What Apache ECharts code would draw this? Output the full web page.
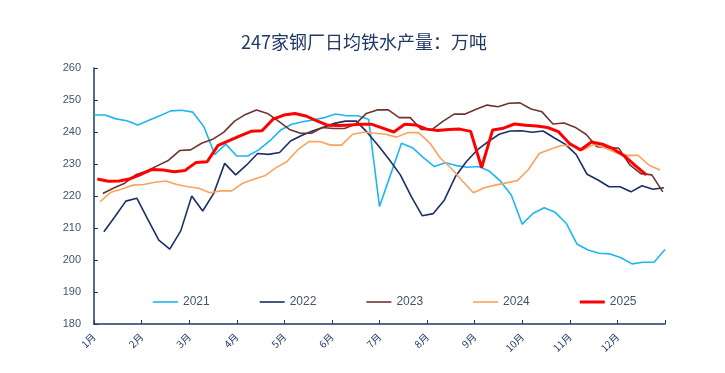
<!DOCTYPE html>
<html>
<head>
<meta charset="utf-8">
<script src="https://cdn.jsdelivr.net/npm/echarts@6/dist/echarts.min.js"></script>
<style>html,body{margin:0;padding:0;background:#fff}#c{width:725px;height:373px}</style>
</head>
<body>
<div id="c"></div>
<script>
const title = '247家钢厂日均铁水产量：万吨';
const monthLabels = ['1月','2月','3月','4月','5月','6月','7月','8月','9月','10月','11月','12月'];
const yTicks = {min: 180, max: 260, interval: 10};
const seriesNames = ['2021','2022','2023','2024','2025'];
// week offset of first observation of each year (weeks from 1 Jan)
const startWeek = [0, 0.9, 0.8, 0.55, 0.3];

const y2021 = [245.3,245.3,244.1,243.5,242.2,243.7,245.1,246.6,246.8,246.2,241.7,233.0,236.2,232.5,232.5,234.4,237.2,240.6,242.4,243.2,243.8,244.5,245.6,245.1,245.1,244.0,216.7,226.6,236.5,235.1,232.0,229.2,230.4,229.5,229.0,229.2,227.8,224.7,220.3,211.2,214.6,216.3,214.9,211.5,204.9,203.1,202.1,201.9,200.7,198.8,199.3,199.3,203.3];
const y2022 = [208.8,213.5,218.4,219.3,212.7,206.2,203.4,209.1,220.0,215.3,220.8,230.2,226.6,229.7,233.3,233.0,233.6,237.2,238.9,240.3,241.5,242.7,243.4,243.4,239.8,235.7,231.3,226.6,219.8,213.8,214.5,218.7,226.0,230.7,234.4,237.0,239.3,240.3,240.4,239.9,240.3,238.2,236.2,233.0,226.8,225.0,222.9,222.9,221.3,223.2,222.1,222.6];
const y2023 = [220.8,222.5,224.0,226.6,227.8,229.5,231.2,234.2,234.4,236.5,237.7,239.9,243.4,245.5,246.9,245.8,243.4,240.8,239.6,239.6,241.4,241.1,241.1,242.4,245.8,246.9,246.9,244.5,244.5,240.8,240.8,243.4,245.6,245.6,247.1,248.4,247.9,249.0,249.1,247.2,246.3,242.5,242.8,241.5,239.3,235.4,235.2,234.9,229.7,227.0,226.6,221.3];
const y2024 = [218.2,221.2,222.2,223.4,223.6,224.3,224.7,223.6,222.9,222.4,221.0,221.6,221.6,224.0,225.2,226.3,228.8,230.7,234.4,237.0,237.0,235.9,235.9,239.3,239.9,239.6,239.3,238.4,239.8,239.8,236.7,231.8,228.6,224.7,221.0,222.6,223.4,224.1,224.8,228.2,233.3,234.6,235.8,235.8,234.4,236.2,235.0,233.5,232.7,232.7,229.6,228.1];
const y2025 = [225.3,224.6,224.7,225.4,226.8,228.3,228.1,227.6,228.0,230.5,230.7,235.8,237.3,238.8,240.2,240.4,244.0,245.3,245.8,245.0,243.5,242.1,242.0,242.2,242.4,242.4,241.2,240.0,242.4,242.2,240.9,240.5,240.8,240.9,240.2,228.9,240.6,241.2,242.5,242.1,241.9,241.4,240.1,236.4,234.4,236.9,236.2,234.7,232.5,229.5,226.6];

const allValues = [y2021, y2022, y2023, y2024, y2025];
const colors = ['#1FB5F0', '#1B2F66', '#6E3530', '#F9A35C', '#FF0000'];
const widths = [1.6, 1.6, 1.6, 1.6, 3];
const WEEKS_PER_YEAR = 52;

const series = seriesNames.map((name, k) => ({
  name,
  type: 'line',
  symbol: 'none',
  z: k === 4 ? 5 : 2,
  lineStyle: {color: colors[k], width: widths[k]},
  itemStyle: {color: colors[k]},
  data: allValues[k].map((v, i) => [(startWeek[k] + i) * 12 / WEEKS_PER_YEAR, v])
}));

const thin = 'path://M0,0H25V1.6H0Z';
const thick = 'path://M0,0H25V3H0Z';

const chart = echarts.init(document.getElementById('c'), null, {renderer: 'canvas'});
chart.setOption({
  animation: false,
  backgroundColor: '#ffffff',
  title: {
    text: title, left: 236, top: 28,
    textStyle: {color: '#1F3864', fontSize: 18, fontWeight: 'normal', fontFamily: '"Noto Sans CJK SC", sans-serif'}
  },
  legend: {
    data: seriesNames.map((n, k) => ({name: n, icon: k === 4 ? thick : thin})),
    left: 148, top: 291, itemWidth: 25, itemHeight: 3, itemGap: 50, symbolKeepAspect: true,
    textStyle: {color: '#44546A', fontSize: 12, fontFamily: 'Arial, "Liberation Sans", sans-serif'}
  },
  grid: {left: 94, right: 60, top: 68, bottom: 49, containLabel: false},
  xAxis: {
    type: 'value', min: 0, max: 12, interval: 1,
    axisLine: {show: true, lineStyle: {color: '#1F3864', width: 1.5}},
    axisTick: {show: true, inside: true, length: 4, lineStyle: {color: '#1F3864', width: 1}},
    splitLine: {show: false},
    axisLabel: {
      rotate: 45, margin: 11, color: '#1F3864', fontSize: 10,
      fontFamily: '"Noto Sans CJK SC", sans-serif',
      formatter: v => (v < 12 ? monthLabels[Math.round(v)] : ''),
      showMaxLabel: true
    }
  },
  yAxis: {
    type: 'value', min: yTicks.min, max: yTicks.max, interval: yTicks.interval,
    axisLine: {show: true, lineStyle: {color: '#1F3864', width: 1.5}},
    axisTick: {show: true, inside: true, length: 4, lineStyle: {color: '#1F3864'}},
    splitLine: {show: false},
    axisLabel: {color: '#44546A', fontSize: 11, margin: 13, fontFamily: 'Arial, "Liberation Sans", sans-serif'}
  },
  series
});
</script>
</body>
</html>
